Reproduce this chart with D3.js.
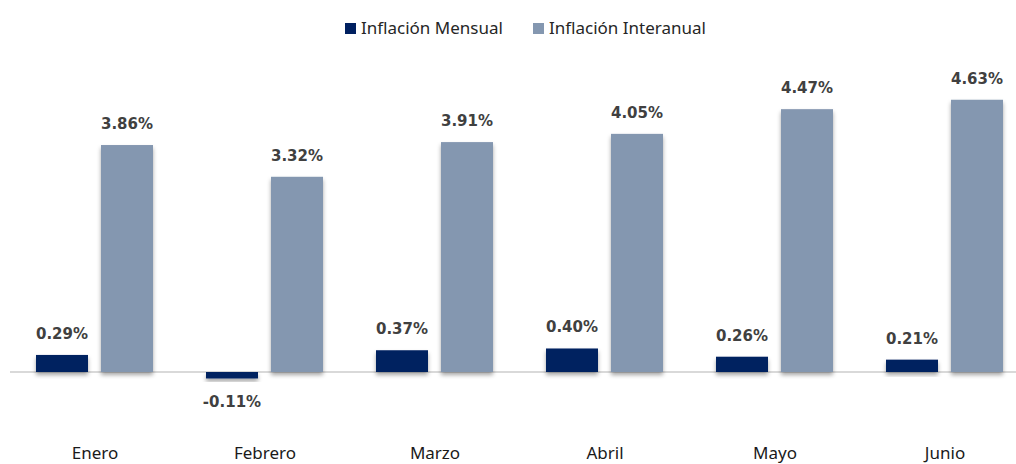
<!DOCTYPE html>
<html>
<head>
<meta charset="utf-8">
<script src="https://cdn.jsdelivr.net/npm/d3@7"></script>
<style>
  html, body { margin: 0; padding: 0; background: #fff; }
  svg { display: block; }
</style>
</head>
<body>
<div id="chart"></div>
<script>
const months = ['Enero', 'Febrero', 'Marzo', 'Abril', 'Mayo', 'Junio'];
const series = ['Inflación Mensual', 'Inflación Interanual'];
const mensual = [0.29, -0.11, 0.37, 0.40, 0.26, 0.21];
const interanual = [3.86, 3.32, 3.91, 4.05, 4.47, 4.63];
const colors = ['#002060', '#8497b0'];

const width = 1016;
const height = 464;

const svg = d3.select('#chart').append('svg')
  .attr('width', width)
  .attr('height', height);

// soft shadow under the bars
const defs = svg.append('defs');
const shadow = defs.append('filter')
  .attr('id', 'shadow')
  .attr('x', '-20%').attr('y', '-20%')
  .attr('width', '140%').attr('height', '160%');
shadow.append('feDropShadow')
  .attr('dx', 0).attr('dy', 3)
  .attr('stdDeviation', 2)
  .attr('flood-color', '#000')
  .attr('flood-opacity', 0.35);

const x = d3.scaleBand().domain(months).range([10, 1030]);
const xSub = d3.scaleBand().domain(series).range([26, 143]).paddingInner(0.2);
const y = d3.scaleLinear().domain([0, 5]).range([372, 78]);

// baseline
svg.append('line')
  .attr('x1', 10).attr('x2', width)
  .attr('y1', y(0)).attr('y2', y(0))
  .attr('stroke', '#d9d9d9')
  .attr('stroke-width', 2);

const rows = months.map((m, i) => ({ month: m, values: [mensual[i], interanual[i]] }));

const groups = svg.selectAll('g.month')
  .data(rows)
  .enter()
  .append('g')
  .attr('class', 'month')
  .attr('transform', (d) => `translate(${x(d.month)},0)`);

groups.selectAll('rect')
  .data((d) => d.values.map((v, j) => ({ s: series[j], v, j })))
  .enter()
  .append('rect')
  .attr('x', (d) => xSub(d.s))
  .attr('width', xSub.bandwidth())
  .attr('y', (d) => Math.min(y(d.v), y(0)))
  .attr('height', (d) => Math.abs(y(d.v) - y(0)))
  .attr('fill', (d) => colors[d.j])
  .attr('filter', 'url(#shadow)');

groups.selectAll('text.val')
  .data((d) => d.values.map((v, j) => ({ s: series[j], v, j })))
  .enter()
  .append('text')
  .attr('class', 'val')
  .attr('x', (d) => xSub(d.s) + xSub.bandwidth() / 2)
  .attr('y', (d) => (d.v < 0 ? y(d.v) + 29 : y(d.v) - 16))
  .attr('text-anchor', 'middle')
  .attr('font-family', 'DejaVu Sans, sans-serif')
  .attr('font-weight', 'bold')
  .attr('font-size', 15)
  .attr('fill', '#404040')
  .text((d) => `${d.v.toFixed(2)}%`);

// category labels
const xAxis = svg.append('g')
  .attr('transform', 'translate(0,459)')
  .call(d3.axisBottom(x).tickSize(0).tickPadding(0));
xAxis.select('.domain').remove();
xAxis.selectAll('text')
  .attr('dy', 0)
  .attr('font-family', 'Noto Sans, sans-serif')
  .attr('font-size', 17)
  .attr('fill', '#1a1a1a');

// legend
const legendX = [345, 533];
const legend = svg.append('g');
series.forEach((s, i) => {
  legend.append('rect')
    .attr('x', legendX[i]).attr('y', 23)
    .attr('width', 11).attr('height', 11)
    .attr('fill', colors[i]);
  legend.append('text')
    .attr('x', legendX[i] + 16).attr('y', 34)
    .attr('font-family', 'Noto Sans, sans-serif')
    .attr('font-size', 17)
    .attr('fill', '#262626')
    .text(s);
});
</script>
</body>
</html>
